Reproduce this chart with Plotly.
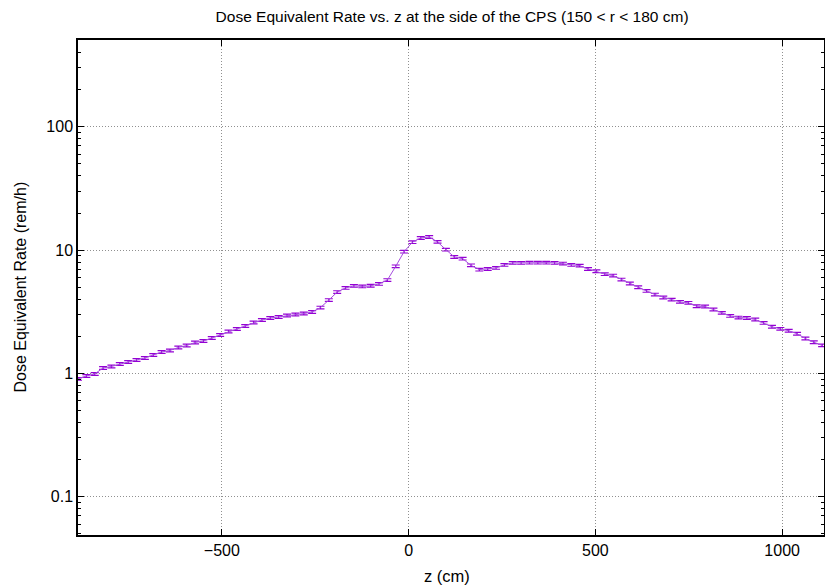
import plotly.graph_objects as go

# bin centres along z (cm): 90 regular bins
z_first = -885.0
z_last = 1107.0
n_bins = 90
z = [z_first + (z_last - z_first) * i / (n_bins - 1) for i in range(n_bins)]

# dose equivalent rate (rem/h)
dose = [0.903, 0.954, 0.991, 1.108, 1.139, 1.194, 1.239, 1.286, 1.335, 1.412,
        1.493, 1.536, 1.624, 1.686, 1.782, 1.833, 1.939, 2.050, 2.188, 2.293,
        2.424, 2.588, 2.712, 2.815, 2.868, 2.949, 3.005, 3.061, 3.148, 3.422,
        3.937, 4.570, 4.942, 5.130, 5.083, 5.139, 5.325, 5.716, 7.394, 9.725,
        11.61, 12.56, 12.79, 11.67, 10.09, 8.81, 8.53, 7.53, 6.95, 7.04,
        7.18, 7.59, 7.88, 7.88, 7.92, 7.92, 7.92, 7.88, 7.78, 7.59,
        7.49, 7.04, 6.74, 6.39, 6.22, 5.77, 5.36, 5.00, 4.67, 4.36,
        4.13, 3.97, 3.81, 3.74, 3.51, 3.49, 3.30, 3.10, 2.93, 2.84,
        2.82, 2.74, 2.57, 2.39, 2.30, 2.22, 2.10, 1.92, 1.79, 1.69]
# relative statistical error
rel_err = 0.025
err = [v * rel_err for v in dose]

y_tickvals = [0.1, 1, 10, 100]
y_ticktext = ["0.1", "1", "10", "100"]
x_tickvals = [-500, 0, 500, 1000]

color = "#9400d3"
font = "Liberation Sans, Arial, sans-serif"

fig = go.Figure()
fig.add_trace(go.Scatter(
    x=z, y=dose, mode="lines",
    line=dict(color="#a64ddf", width=1),
    error_y=dict(type="data", array=err, visible=True, color=color,
                 thickness=1.2, width=4),
    showlegend=False,
))

fig.update_layout(
    width=825, height=587,
    margin=dict(l=78, r=1, t=40, b=52, autoexpand=False),
    paper_bgcolor="white", plot_bgcolor="white",
    font=dict(family=font, size=16, color="black"),
    title=dict(text="Dose Equivalent Rate vs. z at the side of the CPS (150 < r < 180 cm)",
               x=0.548, xanchor="center", y=1 - 17 / 587, yanchor="middle",
               font=dict(size=15.5)),
    annotations=[
        dict(text="z (cm)", xref="paper", yref="paper", x=0.495, y=-(576 - 535) / 495,
             xanchor="center", yanchor="middle", showarrow=False, font=dict(size=16.5)),
        dict(text="Dose Equivalent Rate (rem/h)", xref="paper", yref="paper",
             x=-(78 - 20) / 746, y=0.5, textangle=-90,
             xanchor="center", yanchor="middle", showarrow=False, font=dict(size=16)),
    ],
)
fig.update_xaxes(
    range=[-885, 1112], tickvals=x_tickvals, automargin=False,
    ticks="inside", ticklen=6, tickcolor="black", mirror="allticks",
    showline=True, linecolor="black", linewidth=1.5,
    showgrid=True, gridcolor="#909090", griddash="1px,2px", gridwidth=1,
    zeroline=False, tickfont=dict(size=16),
)
fig.update_yaxes(
    type="log", range=[-1.31, 2.704], automargin=False,
    tickvals=y_tickvals, ticktext=y_ticktext,
    ticks="inside", ticklen=6, tickcolor="black", mirror="allticks",
    showline=True, linecolor="black", linewidth=1.5,
    showgrid=True, gridcolor="#909090", griddash="1px,2px", gridwidth=1,
    zeroline=False, tickfont=dict(size=16),
    minor=dict(ticks="inside", ticklen=3, tickcolor="black", dtick="D1", showgrid=False),
)

fig.write_html("out.html", config={"displayModeBar": False},
               post_script="document.body.style.margin='0';")
